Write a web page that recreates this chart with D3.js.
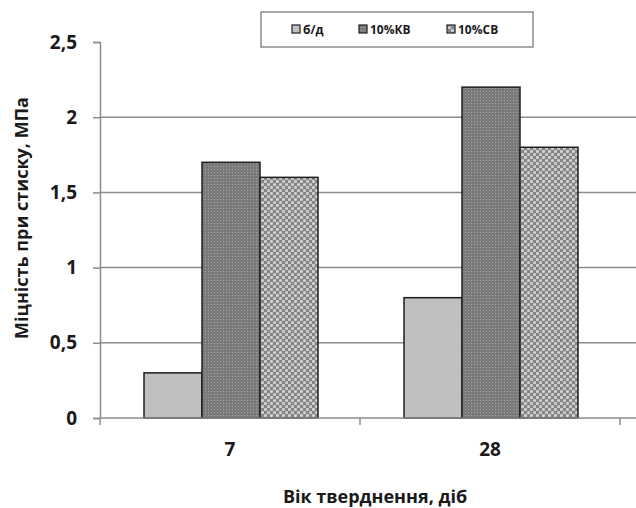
<!DOCTYPE html>
<html>
<head>
<meta charset="utf-8">
<script src="https://cdn.jsdelivr.net/npm/d3@7"></script>
<style>
  body { margin: 0; background: #fff; }
  text { font-family: "Open Sans", "Noto Sans", sans-serif; font-weight: bold; fill: #1a1a1a; }
</style>
</head>
<body>
<div id="chart"></div>
<script>
// data
const ages = ["7", "28"];
const series = ["б/д", "10%КВ", "10%СВ"];
const valuesBD = [0.3, 0.8];
const valuesKV = [1.7, 2.2];
const valuesSV = [1.6, 1.8];
const yTicks = [0, 0.5, 1, 1.5, 2, 2.5];

const W = 636, H = 508;
const svg = d3.select("#chart").append("svg")
  .attr("width", W).attr("height", H);

// fill patterns
const defs = svg.append("defs");
const pKV = defs.append("pattern").attr("id", "pKV")
  .attr("patternUnits", "userSpaceOnUse").attr("width", 3).attr("height", 3);
pKV.append("rect").attr("width", 3).attr("height", 3).attr("fill", "#7a7a7a");
pKV.append("rect").attr("x", 1).attr("y", 1).attr("width", 1).attr("height", 1).attr("fill", "#a6a6a6");

const pSV = defs.append("pattern").attr("id", "pSV")
  .attr("patternUnits", "userSpaceOnUse").attr("width", 6).attr("height", 6);
pSV.append("rect").attr("width", 6).attr("height", 6).attr("fill", "#858585");
pSV.append("circle").attr("cx", 1.5).attr("cy", 1.5).attr("r", 1.6).attr("fill", "#d0d0d0");
pSV.append("circle").attr("cx", 4.5).attr("cy", 4.5).attr("r", 1.6).attr("fill", "#d0d0d0");

const fills = ["#c0c0c0", "url(#pKV)", "url(#pSV)"];

const x0 = d3.scaleBand().domain(ages).range([100, 620]);
const x1 = d3.scaleBand().domain(series).range([0, 174]);
const y = d3.scaleLinear().domain([0, 2.5]).range([418, 42]);

// gridlines
svg.append("g").selectAll("line")
  .data(yTicks.filter(d => d > 0 && d < 2.5))
  .enter().append("line")
  .attr("x1", 100).attr("x2", W)
  .attr("y1", d => y(d)).attr("y2", d => y(d))
  .attr("stroke", "#8c8c8c").attr("stroke-width", 1.5);

// bars
const table = ages.map((a, i) => ({ age: a, vals: [valuesBD[i], valuesKV[i], valuesSV[i]] }));
const groups = svg.append("g").selectAll("g")
  .data(table).enter().append("g")
  .attr("transform", d => `translate(${x0(d.age) + (x0.bandwidth() - 174) / 2 + 1},0)`);

groups.selectAll("rect")
  .data(d => d.vals.map((v, j) => ({ s: series[j], v: v, j: j })))
  .enter().append("rect")
  .attr("x", d => x1(d.s))
  .attr("y", d => y(d.v))
  .attr("width", x1.bandwidth())
  .attr("height", d => y(0) - y(d.v))
  .attr("fill", d => fills[d.j])
  .attr("stroke", "#1e1e1e").attr("stroke-width", 1.5);

// y axis
const yAxis = svg.append("g").attr("transform", "translate(100,0)")
  .call(d3.axisLeft(y).tickValues(yTicks).tickSize(7).tickPadding(16)
    .tickFormat(d => String(d).replace(".", ",")));
yAxis.select(".domain").attr("stroke", "#8c8c8c").attr("stroke-width", 1.5);
yAxis.selectAll(".tick line").attr("stroke", "#8c8c8c").attr("stroke-width", 1.5);
yAxis.selectAll(".tick text").attr("font-size", 19).attr("fill", "#1a1a1a");

// x axis
const xAxis = svg.append("g").attr("transform", `translate(0,${y(0)})`)
  .call(d3.axisBottom(x0).tickSize(0).tickPadding(25));
xAxis.select(".domain").attr("stroke", "#8c8c8c").attr("stroke-width", 1.5)
  .attr("d", `M100,0H${W}`);
xAxis.selectAll(".tick text").attr("font-size", 19).attr("fill", "#1a1a1a");
xAxis.selectAll(".sep")
  .data([100, 360, 620]).enter().append("line")
  .attr("x1", d => d).attr("x2", d => d)
  .attr("y1", 0).attr("y2", 7)
  .attr("stroke", "#8c8c8c").attr("stroke-width", 1.5);

// axis titles
svg.append("text")
  .attr("transform", "translate(28,218) rotate(-90)")
  .attr("text-anchor", "middle")
  .attr("font-size", 18)
  .text("Міцність при стиску, МПа");

svg.append("text")
  .attr("x", 375).attr("y", 503)
  .attr("text-anchor", "middle")
  .attr("font-size", 18)
  .text("Вік тверднення, діб");

// legend
const legend = svg.append("g");
legend.append("rect")
  .attr("x", 261).attr("y", 12).attr("width", 272).attr("height", 35)
  .attr("fill", "#fff").attr("stroke", "#8c8c8c").attr("stroke-width", 1.5);
const legX = [296, 363, 451];
const items = legend.selectAll("g.item")
  .data(series).enter().append("g")
  .attr("transform", (d, i) => `translate(${legX[i]},29)`);
items.append("rect")
  .attr("x", -4).attr("y", -4).attr("width", 8).attr("height", 8)
  .attr("fill", (d, i) => fills[i])
  .attr("stroke", "#1e1e1e").attr("stroke-width", 1.2);
items.append("text")
  .attr("x", 7).attr("y", 5)
  .attr("font-size", 12)
  .text(d => d);
</script>
</body>
</html>
